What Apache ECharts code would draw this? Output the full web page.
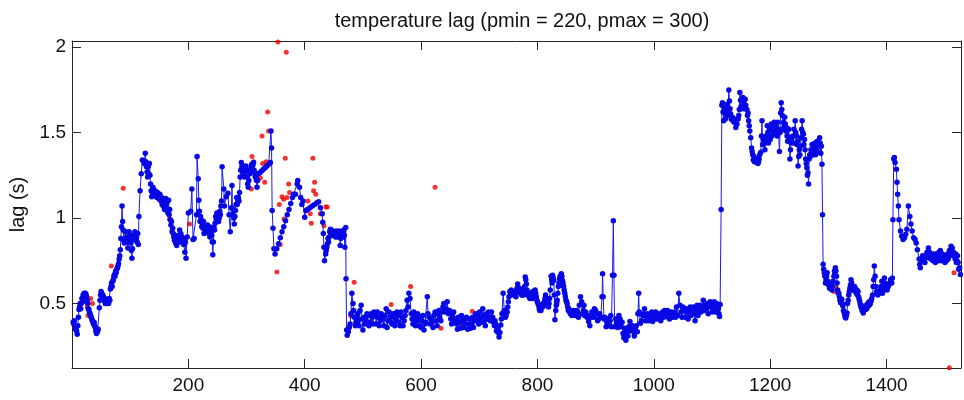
<!DOCTYPE html>
<html>
<head>
<meta charset="utf-8">
<script src="https://cdn.jsdelivr.net/npm/echarts@6/dist/echarts.min.js"></script>
<style>html,body{margin:0;padding:0;background:#fff;}#c{width:964px;height:400px;}</style>
</head>
<body>
<div id="c"></div>
<script>
// ---- data ----
const titleText = 'temperature lag (pmin = 220, pmax = 300)';
const yLabel = 'lag (s)';
const xTicks = [200, 400, 600, 800, 1000, 1200, 1400];
const yTicks = [0.5, 1, 1.5, 2];

// [sample index, lag] for the blue trace (main readings)
const lagSamples = [
[2,0.39],[5,0.37],[9,0.32],[12,0.465],[16,0.50],[21,0.56],[24,0.555],[26,0.52],[29,0.465],[32,0.43],[35,0.40],[39,0.37],[42,0.325],[45,0.35],[47,0.475],[50,0.57],[54,0.54],[57,0.50],[61,0.525],[65,0.52],[66,0.585],[70,0.63],[73,0.67],[77,0.70],[80,0.735],[83,0.815],[85,0.95],[86,1.07],[88,0.93],[90,0.855],[94,0.89],[96,0.825],[98,0.92],[101,0.855],[103,0.765],[105,0.875],[108,0.92],[111,0.89],[114,0.845],[115,1.01],[117,1.16],[119,1.26],[121,1.34],[124,1.32],[126,1.38],[128,1.30],[130,1.24],[133,1.32],[135,1.20],[137,1.125],[140,1.17],[144,1.155],[148,1.135],[152,1.125],[156,1.095],[159,1.05],[161,1.115],[164,1.04],[166,1.105],[169,0.99],[173,0.94],[175,0.89],[178,0.855],[182,0.875],[185,0.93],[189,0.89],[192,0.845],[196,0.765],[198,0.89],[200,1.03],[204,1.04],[206,1.17],[208,0.875],[210,0.88],[214,1.02],[215,1.36],[217,1.23],[218,1.105],[221,1.01],[224,0.97],[228,0.93],[231,0.95],[234,0.92],[238,0.94],[240,0.90],[242,0.785],[245,0.93],[247,1.01],[249,1.03],[253,1.00],[256,1.07],[258,1.30],[261,1.17],[262,1.07],[265,1.125],[268,1.145],[270,1.02],[272,0.92],
[274,1.06],[275,1.19],[276,1.02],[279,0.965],[281,1.045],[283,1.12],[285,1.10],[288,1.15],[289,1.24],[291,1.325],[293,1.305],[295,1.26],[297,1.29],[299,1.305],[301,1.24],[303,1.18],[305,1.265],[307,1.285],[309,1.315],[312,1.325],[314,1.265],[316,1.245],[318,1.18],[320,1.26],
[323,1.265],[326,1.275],[329,1.285],[332,1.295],[335,1.305],[338,1.315],[341,1.325],[342,1.51],[343,1.41],[344,1.045],[345.5,0.94],[347,0.82],[349,0.79],
[352,0.82],[355,0.85],[358,0.885],[361,0.92],[364,0.95],[367,0.985],[370,1.02],[373,1.05],[376,1.085],[379,1.12],[381,1.14],
[384,1.14],[387,1.20],[388,1.22],[391,1.18],[393,1.12],[395,1.08],[397,1.10],[400,1.005],[402,1.045],
[405,1.05],[409,1.06],[413,1.07],[417,1.08],[421,1.09],[424,1.095],[427,1.06],[430,1.025],[431,0.975],[432,0.91],[433,0.83],[434,0.75],[436,0.79],[439,0.85],[442,0.89],[444,0.935],[448,0.91],[451,0.90],[454,0.925],[457,0.89],[459,0.925],[461,0.84],[464,0.91],[467,0.93],[469,0.83],[470.5,0.945],[471,0.645],[472,0.345],
[473,0.315],[475,0.335],[478,0.38],[481,0.56],[483,0.50],[485,0.42],[487,0.37],[489.5,0.42],[492,0.40],[495,0.46],[497,0.49],[500,0.345],[502,0.42],[505.5,0.40],[509,0.43],[512,0.39],[516,0.42],[519,0.45],[523,0.38],[526,0.42],[530,0.40],[533,0.43],[536,0.37],[540,0.47],[543,0.40],[547,0.42],[550,0.38],[553.5,0.42],[557,0.40],[560,0.43],[564,0.37],[567,0.42],[571,0.40],[574,0.46],[576,0.52],[579,0.56],[581,0.53],[583,0.44],[586,0.38],[589,0.42],[592,0.40],[596,0.37],[598,0.42],[601.6,0.40],[605,0.345],[608,0.39],[610.7,0.54],[612,0.44],[615,0.38],[619,0.39],[622,0.43],[626,0.40],[629,0.44],[632,0.42],[636,0.45],[639,0.50],[643,0.47],[645,0.51],[647,0.44],[651,0.41],[654,0.43],[658,0.39],[661,0.38],[664,0.42],[668,0.355],[671,0.40],[675,0.38],[678,0.42],[682,0.38],[685,0.355],[688.5,0.42],[692,0.40],[695,0.43],[699,0.38],[702,0.42],[706,0.47],[709,0.40],[712,0.44],[716,0.45],[719,0.40],[723,0.42],[726,0.37],
[727,0.40],[731,0.355],[734,0.305],[737,0.375],[739,0.44],[741,0.56],[743,0.46],[746,0.43],[748,0.45],[750,0.51],[752.6,0.57],[755,0.58],[757,0.56],[761,0.55],[764,0.57],[766,0.615],[769,0.59],[771,0.56],[774,0.55],[777,0.58],[779,0.655],[781,0.615],[783.5,0.55],[787,0.53],[790,0.55],[794,0.56],[796,0.58],[798,0.54],[802,0.49],[804,0.46],[807,0.48],[810,0.50],[812,0.51],[814,0.55],[817,0.51],[819,0.48],[821,0.53],[823.5,0.66],[826,0.665],[828,0.635],[830,0.405],[831.5,0.46],[834,0.52],[836,0.60],[838,0.645],[841,0.675],[843,0.635],[845,0.60],[847,0.56],[850,0.51],[852,0.48],[855.5,0.45],[859,0.43],[862,0.46],[866,0.44],[869,0.45],
[872,0.49],[874,0.54],[876,0.51],[879,0.46],[881,0.43],[885,0.42],[888,0.395],[892,0.42],[895,0.45],[898,0.47],[902,0.44],[905,0.41],[909,0.42],[911,0.54],[912,0.675],[913,0.54],[914.4,0.41],[918,0.365],[921,0.41],[925,0.40],[927,0.365],[929,0.665],[930.4,0.985],[931.5,0.665],[932.7,0.365],[936,0.385],[940,0.43],[942,0.41],[944,0.365],[947,0.325],[950,0.355],[952,0.285],[954,0.335],[957,0.365],[959,0.395],[961,0.345],[965,0.335],[968,0.355],[971.6,0.335],[972.7,0.44],[974,0.56],[975,0.45],[977,0.385],[981,0.43],[984,0.47],[988,0.42],[991,0.40],[995,0.44],[998,0.395],[1001,0.43],[1005,0.41],[1008,0.44],[1012,0.40],[1015,0.45],[1018.5,0.46],[1022,0.43],[1025,0.42],[1029,0.44],[1032,0.42],[1036,0.45],[1039,0.48],[1041,0.43],[1043,0.56],[1045,0.49],[1047,0.45],[1050,0.48],[1054,0.42],[1057,0.45],[1061,0.46],[1064,0.43],[1068,0.48],[1071,0.40],[1074.5,0.49],[1078,0.46],[1081,0.45],[1085,0.52],[1088,0.49],[1092,0.50],[1095,0.48],[1099,0.49],[1102,0.47],[1104,0.51],[1106.5,0.45],[1109,0.48],[1111,0.47],[1113,0.425],[1114,0.495],
[1115.7,1.05],[1117,1.66],[1118,1.675],[1120,1.57],[1122,1.64],[1124,1.61],[1126,1.665],[1129,1.75],[1130,1.685],[1132,1.61],[1135,1.59],[1138,1.56],[1141,1.53],[1145,1.58],[1147,1.635],[1148,1.735],[1150,1.655],[1153,1.705],[1155,1.685],[1157,1.695],[1160,1.635],[1162,1.615],[1164,1.54],[1166.6,1.47],[1168,1.41],[1170,1.37],[1172,1.36],[1174.6,1.335],[1177,1.325],[1179,1.32],[1181,1.345],[1184,1.385],[1185,1.48],[1186,1.57],[1188,1.46],[1191,1.40],[1193,1.48],[1195,1.54],[1197,1.44],[1200,1.46],[1202,1.55],[1204,1.51],[1207,1.56],[1209,1.50],[1211,1.53],[1213,1.56],[1216,1.39],[1218,1.615],[1219,1.675],[1220,1.635],[1223,1.56],[1225,1.59],[1227,1.51],[1229,1.48],[1232,1.52],[1234,1.345],[1236,1.44],[1239,1.48],[1241,1.52],[1243,1.57],[1245.5,1.48],[1248,1.305],[1250,1.40],[1252,1.42],[1255,1.57],[1257,1.49],[1259,1.46],[1261,1.345],[1263,1.295],[1265,1.265],[1266,1.20],[1267,1.345],[1270,1.40],[1272,1.43],[1274,1.37],[1276,1.42],[1279,1.40],[1281,1.45],[1283,1.385],[1285,1.47],[1288,1.42],[1289,1.315],[1290,1.02],
[1291,0.73],[1293,0.68],[1296,0.64],[1298,0.68],[1300,0.61],[1303,0.60],[1305,0.59],[1307,0.60],[1309.5,0.66],[1312,0.71],[1314,0.66],[1316,0.58],[1319,0.54],[1321,0.505],[1323,0.525],[1325,0.485],[1328,0.435],[1330,0.415],[1332,0.445],[1335,0.55],[1337,0.59],[1339,0.64],[1341.5,0.60],[1344,0.58],[1346,0.59],[1348,0.56],[1351,0.57],[1353,0.525],[1355,0.495],[1357,0.475],[1360,0.445],[1362,0.485],[1364,0.465],[1367,0.495],[1369,0.485],[1371,0.495],[1373.6,0.515],[1376,0.55],[1378,0.64],[1379,0.72],[1380.4,0.66],[1383,0.57],[1385,0.55],[1387,0.56],[1389.6,0.58],[1392,0.63],[1393,0.56],[1394,0.58],[1396.4,0.65],[1399,0.60],[1401,0.58],[1403,0.60],[1405.6,0.62],[1408,0.63],[1410,0.65],[1411,0.99],[1412.4,1.345],[1413.5,1.355],[1414.7,1.325],[1417,1.285],[1418,1.21],[1419,1.14],[1420.4,1.07],[1421.5,0.99],[1424,0.925],[1426,0.895],[1428.4,0.875],[1431,0.885],[1433,0.905],[1435,0.935],[1437.6,1.07],[1440,1.01],[1442,0.965],[1444,0.925],[1446.7,0.885],[1449,0.875],[1451,0.855],[1453,0.815],[1456,0.76],[1458,0.71],[1460.5,0.76],[1463,0.75],[1465,0.76],[1467,0.78],[1469.6,0.80],[1472,0.825],[1474,0.80],[1476,0.76],[1479,0.78],[1481,0.76],[1483,0.77],[1485,0.75],[1488,0.77],[1490,0.80],[1492.5,0.81],[1495,0.78],[1497,0.76],[1499,0.75],[1501.6,0.77],[1504,0.78],[1506,0.76],[1508,0.81],[1511,0.835],[1513,0.825],[1515,0.80],[1518,0.76],[1520,0.74],[1522,0.78],[1524,0.70],[1527,0.67]
];

// further readings inside the dense noisy band of the blue trace
const lagBandSamples = [
[3,0.38],[4,0.40],[6,0.35],[7,0.36],[8,0.34],[10,0.37],[11,0.42],[13,0.48],[14,0.50],[15,0.47],[17,0.53],[18,0.51],[19,0.55],[20,0.54],[22,0.55],[23,0.56],[25,0.54],[27,0.50],[28,0.47],[30,0.45],[31,0.44],[33,0.42],[34,0.41],[36,0.39],[37,0.38],[38,0.39],[40,0.36],[41,0.34],[43,0.33],[44,0.34],[48,0.52],[49,0.55],[51,0.56],[52,0.53],[53,0.55],[55,0.52],[56,0.53],[58,0.51],[59,0.52],[60,0.50],[62,0.52],[63,0.50],[64,0.53],[67,0.60],[68,0.62],[69,0.60],[71,0.64],[72,0.66],[74,0.66],[75,0.69],[76,0.68],[78,0.71],[79,0.72],[81,0.76],[82,0.78],
[84,0.88],[87,0.98],[89,0.87],[91,0.86],[92,0.92],[93,0.86],[95,0.87],[97,0.88],[99,0.86],[100,0.90],[102,0.81],[104,0.82],[106,0.90],[107,0.88],[109,0.91],[110,0.87],[112,0.86],[113,0.91],
[127,1.33],[129,1.27],[131,1.30],[132,1.26],[134,1.25],[136,1.16],[138,1.15],[139,1.18],[141,1.14],[142,1.16],[143,1.13],[145,1.14],[146,1.12],[147,1.15],[149,1.12],[150,1.11],[151,1.14],[153,1.10],[154,1.12],[155,1.08],[157,1.07],[158,1.09],[160,1.08],[162,1.06],[163,1.09],[165,1.03],[167,1.02],[168,1.05],[170,0.96],[171,0.98],[172,0.92],[174,0.91],[176,0.87],[177,0.90],[179,0.88],[180,0.84],[181,0.86],[183,0.90],[184,0.86],[186,0.88],[187,0.91],[188,0.86],[190,0.87],[191,0.88],[193,0.85],[194,0.80],[195,0.86],
[219,1.04],[220,0.98],[222,0.99],[223,0.95],[225,0.94],[226,0.98],[227,0.91],[229,0.95],[230,0.92],[232,0.93],[233,0.96],[235,0.91],[236,0.95],[237,0.89],[239,0.92],[241,0.86],[243,0.86],[244,0.95],[246,0.97],[248,0.99],[250,0.98],[251,1.02],[252,0.98],[254,1.04],[255,1.02],[257,1.10],
[277,1.05],[278,1.00],[280,1.01],[282,1.08],[284,1.08],[286,1.12],[287,1.10],[290,1.28],[292,1.30],[294,1.28],[296,1.24],[298,1.28],[300,1.28],[302,1.20],[304,1.22],[306,1.26],[308,1.30],[310,1.29],[311,1.31],[313,1.28],[315,1.24],[317,1.22],[319,1.22],
[437,0.81],[438,0.83],[440,0.88],[441,0.86],[443,0.92],[445,0.91],[446,0.93],[447,0.90],[449,0.92],[450,0.91],[452,0.92],[453,0.89],[455,0.91],[456,0.92],[458,0.91],[460,0.90],[462,0.88],[463,0.91],[465,0.92],[466,0.89],[468,0.90],
[476.5,0.36],[479.5,0.44],[484,0.46],[488,0.39],[491,0.44],[493.5,0.37],[498.5,0.41],[503.5,0.38],[507,0.44],[510.5,0.37],[514,0.44],[517.5,0.38],[521,0.43],[524.5,0.45],[528,0.37],[531.5,0.44],[534.5,0.41],[538,0.43],[541.5,0.36],[545,0.45],[548.5,0.39],[552,0.44],[555,0.37],[558.5,0.45],[562,0.39],[565.5,0.45],[569,0.37],[572.5,0.43],[577.5,0.48],[584.5,0.41],[587.5,0.45],[590.5,0.37],[594,0.44],[597,0.41],[600,0.36],[603,0.43],[606.5,0.38],[613.5,0.42],[617,0.41],[620.5,0.36],[624,0.45],[627.5,0.37],[630.5,0.46],[634,0.40],[637.5,0.48],[641,0.45],[649,0.46],[652.5,0.38],[656,0.45],[659.5,0.41],[662.5,0.35],[666,0.39],[669.5,0.43],[673,0.36],[676.5,0.41],[680,0.35],[683.5,0.41],[687,0.38],[690,0.36],[693.5,0.44],[697,0.40],[700.5,0.45],[704,0.39],[707.5,0.43],[710.5,0.37],[714,0.41],[717.5,0.42],[721,0.45],[724.5,0.39],
[728,0.38],[729.5,0.34],[732.5,0.33],[735.5,0.33],[738,0.41],[744,0.44],[745,0.42],[747,0.45],[749,0.48],[751,0.54],[753.5,0.55],[756,0.56],[758,0.57],[759,0.55],[760,0.57],[762,0.56],[763,0.54],[765,0.59],[767,0.58],[768,0.57],[770,0.58],[772,0.57],[773,0.55],[775,0.56],[776,0.55],[778,0.60],[780,0.64],[782,0.58],[784.5,0.56],[785.5,0.54],[788,0.56],[789,0.54],[791,0.53],[792,0.57],[793,0.55],[795,0.57],[797,0.56],[799,0.52],[800,0.51],[801,0.50],[803,0.47],[805,0.47],[806,0.46],[808,0.49],[809,0.48],[811,0.49],[813,0.53],[815,0.53],[816,0.52],[818,0.50],[820,0.50],[822,0.58],[824.5,0.64],[825,0.62],[827,0.65],[829,0.55],[832.5,0.49],[833,0.50],[835,0.56],[837,0.62],[839,0.66],[840,0.66],[842,0.66],[844,0.62],[846,0.58],[848,0.54],[849,0.52],[851,0.50],[853,0.46],[854,0.47],[856.5,0.44],[857.5,0.45],[860,0.45],[861,0.44],[863,0.45],[864,0.43],[865,0.45],[867,0.46],[868,0.43],
[870.5,0.42],[877.5,0.44],[880,0.49],[883,0.45],[886.5,0.43],[890,0.37],[893.5,0.45],[896.5,0.42],[900,0.46],[903.5,0.40],[907,0.44],[916,0.42],[919.5,0.39],[923,0.37],[926,0.43],[934.5,0.41],[938,0.36],[941,0.39],[945.5,0.39],[948.5,0.30],[951,0.33],[955.5,0.31],[958,0.34],[963,0.37],[966.5,0.31],[970,0.37],[979,0.40],[982.5,0.44],[986,0.40],[989.5,0.44],[993,0.42],[996.5,0.45],[999.5,0.41],[1003,0.45],[1006.5,0.43],[1010,0.42],[1013.5,0.43],[1017,0.42],[1020,0.44],[1023.5,0.46],[1027,0.41],[1030.5,0.45],[1034,0.43],[1037.5,0.42],[1048.5,0.42],[1052,0.46],[1055.5,0.47],[1059,0.41],[1062.5,0.48],[1066,0.45],[1069.5,0.44],[1073,0.46],[1076,0.43],[1079.5,0.49],[1083,0.47],[1086.5,0.46],[1090,0.47],[1093.5,0.44],[1097,0.51],[1100.5,0.45],[1103,0.49],[1108,0.50],[1112,0.44],
[1119,1.62],[1121,1.63],[1123,1.58],[1125,1.62],[1127,1.60],[1131,1.64],[1133,1.58],[1136,1.57],[1139,1.58],[1143,1.55],[1146,1.60],[1149,1.69],[1151,1.64],[1154,1.66],[1156,1.64],[1158,1.66],[1161,1.60],[1163,1.57],[1165,1.51],[1169,1.39],[1171,1.34],[1173,1.33],[1176,1.35],[1178,1.34],[1180,1.33],[1182,1.37],[1187,1.43],[1189,1.44],[1192,1.44],[1194,1.45],[1196,1.50],[1198,1.47],[1201,1.52],[1203,1.48],[1205,1.54],[1208,1.49],[1210,1.55],[1212,1.48],[1214,1.52],[1217,1.50],[1221,1.60],[1222,1.52],[1224,1.54],[1226,1.55],[1228,1.53],[1230,1.45],[1233,1.47],[1235,1.40],[1237,1.47],[1240,1.44],[1242,1.48],[1244,1.50],[1246,1.43],[1247,1.45],[1249,1.36],[1251,1.37],[1253,1.47],[1254,1.52],[1256,1.50],[1258,1.43],[1260,1.40],[1262,1.32],[1264,1.25],[1268,1.37],[1269,1.36],[1271,1.38],[1273,1.40],[1275,1.38],[1277,1.44],[1278,1.37],[1280,1.42],[1282,1.44],[1284,1.42],[1286,1.44],[1287,1.38],
[1292,0.70],[1294,0.66],[1295,0.62],[1297,0.66],[1299,0.63],[1301,0.62],[1302,0.59],[1304,0.61],[1306,0.58],[1308,0.63],[1310.5,0.69],[1311,0.67],[1313,0.69],[1315,0.62],[1317,0.56],[1318,0.56],[1320,0.52],[1322,0.51],[1324,0.50],[1326,0.46],[1327,0.45],[1329,0.42],[1331,0.43],[1333,0.50],[1334,0.52],[1336,0.57],[1338,0.61],[1340,0.62],[1342.5,0.58],[1345,0.60],[1347,0.57],[1349,0.58],[1350,0.55],[1352,0.54],[1354,0.51],[1356,0.48],[1358,0.46],[1359,0.46],[1361,0.47],[1363,0.48],[1365,0.48],[1366,0.47],[1368,0.50],[1370,0.51],[1372,0.50],[1374.5,0.53],[1377,0.60],[1381.5,0.60],[1384,0.56],[1386,0.57],[1388,0.57],[1390.5,0.60],[1395,0.61],[1397.5,0.62],[1400,0.59],[1402,0.61],[1404,0.61],[1407,0.64],[1409,0.62],
[1457,0.73],[1462,0.78],[1466,0.74],[1468,0.77],[1470.5,0.78],[1473,0.77],[1475,0.78],[1477.5,0.79],[1480,0.75],[1482,0.79],[1484,0.74],[1486.5,0.79],[1489,0.75],[1491,0.77],[1494,0.75],[1496,0.79],[1498,0.78],[1500.5,0.74],[1503,0.75],[1505,0.79],[1507,0.78],[1509.5,0.79],[1512,0.80],[1514,0.78],[1516.5,0.78],[1519,0.79],[1521,0.75],[1523,0.74],[1525.5,0.71]
];

// [sample index, lag] for the red rejected points
const outlierSamples = [
[26.4,0.48],[27.5,0.43],[32,0.53],[35,0.50],[67.6,0.72],[88,1.175],[167.6,0.995],[202,0.965],
[308.3,1.17],[309.4,1.36],[312.3,1.33],[323.7,1.235],[326.6,1.48],[327.7,1.32],[331.2,1.21],[333.5,1.33],[336.3,1.62],[338,1.51],
[352.3,0.685],[354,2.03],[356.3,1.08],[358,0.845],[361,1.125],[363.8,1.11],[364.5,0.995],[366.6,1.35],[368.3,1.97],[369.5,1.12],[372.3,1.20],[374,1.15],
[405.5,1.10],[409.5,1.025],[411.2,0.97],[414,1.35],[415.2,1.16],[417,1.21],[419,1.14],[426.7,1.025],[433,0.955],[436.4,1.065],[438.7,1.065],
[479,0.43],[485,0.625],[548.5,0.495],[582,0.60],[587,0.445],[624,1.18],[634,0.355],[667,0.38],[688,0.455],
[1310,0.57],[1313,0.60],[1508,0.125],[1516,0.68]
];

const xMin = 0, xMax = 1528;
const yMin = 0.123, yMax = 2.036;

// ---- chart ----
const FONT = '"Liberation Sans", Arial, Helvetica, sans-serif';
const AX = '#262626';
const chart = echarts.init(document.getElementById('c'), null, {renderer: 'canvas'});

const lagData = lagSamples.concat(lagBandSamples)
  .map(p => [p[0], p[1]])
  .sort((a, b) => a[0] - b[0]);

const tickStyle = {inside: true, length: 9, lineStyle: {color: AX, width: 1}};
const plainNum = v => String(v);
chart.setOption({
  animation: false,
  backgroundColor: '#fff',
  title: {
    text: titleText,
    left: 517, top: 6, textAlign: 'center',
    textStyle: {fontFamily: FONT, fontSize: 20, fontWeight: 'normal', color: '#111'}
  },
  grid: {left: 72, right: 3, top: 41, bottom: 32, containLabel: false},
  xAxis: [{
    type: 'value', min: xMin, max: xMax, position: 'bottom',
    axisLine: {show: true, onZero: false, lineStyle: {color: AX, width: 1}},
    axisTick: Object.assign({customValues: xTicks}, tickStyle),
    axisLabel: {customValues: xTicks, formatter: plainNum, margin: 8, fontFamily: FONT, fontSize: 19, color: '#111'},
    splitLine: {show: false}
  }, {
    type: 'value', min: xMin, max: xMax, position: 'top',
    axisLine: {show: true, onZero: false, lineStyle: {color: AX, width: 1}},
    axisTick: Object.assign({customValues: xTicks}, tickStyle),
    axisLabel: {show: false},
    splitLine: {show: false}
  }],
  yAxis: [{
    type: 'value', min: yMin, max: yMax, position: 'left',
    name: yLabel, nameLocation: 'middle', nameRotate: 90, nameGap: 36,
    nameTextStyle: {fontFamily: FONT, fontSize: 20, color: '#111'},
    axisLine: {show: true, onZero: false, lineStyle: {color: AX, width: 1}},
    axisTick: Object.assign({customValues: yTicks}, tickStyle),
    axisLabel: {customValues: yTicks, formatter: plainNum, margin: 6, fontFamily: FONT, fontSize: 19, color: '#111'},
    splitLine: {show: false}
  }, {
    type: 'value', min: yMin, max: yMax, position: 'right',
    axisLine: {show: true, onZero: false, lineStyle: {color: AX, width: 1}},
    axisTick: Object.assign({customValues: yTicks}, tickStyle),
    axisLabel: {show: false},
    splitLine: {show: false}
  }],
  series: [{
    type: 'scatter', xAxisIndex: 0, yAxisIndex: 0,
    data: outlierSamples.map(p => [p[0], p[1]]),
    symbol: 'circle', symbolSize: 5,
    itemStyle: {color: '#f00000'},
    z: 2
  }, {
    type: 'line', xAxisIndex: 0, yAxisIndex: 0,
    data: lagData,
    symbol: 'circle', symbolSize: 5.5, showSymbol: true, showAllSymbol: true,
    lineStyle: {color: '#1a1af0', width: 1},
    itemStyle: {color: '#0808e6'},
    z: 3
  }]
});
</script>
</body>
</html>
